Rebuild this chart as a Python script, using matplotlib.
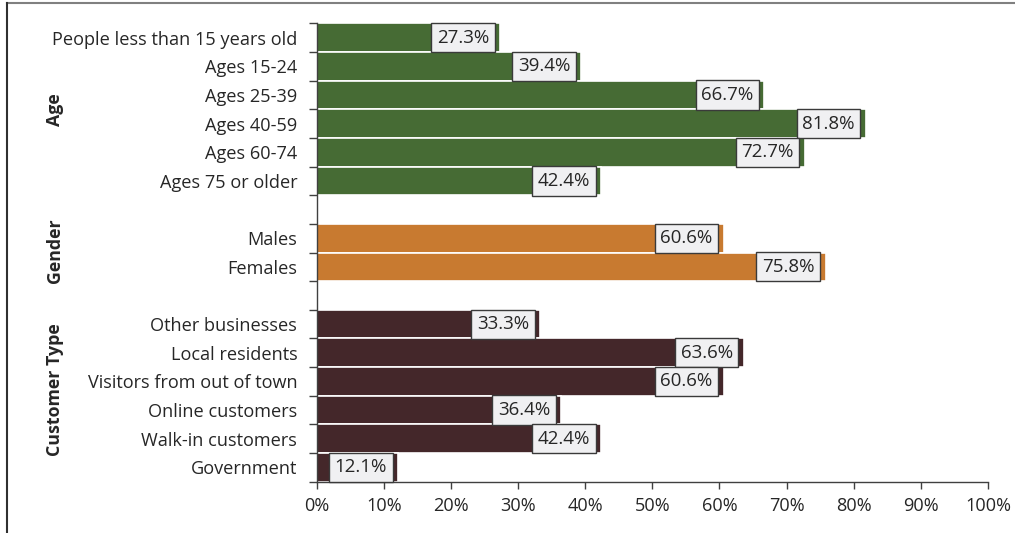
import matplotlib.pyplot as plt
from matplotlib.lines import Line2D

# datos
age_labels = ["People less than 15 years old", "Ages 15-24", "Ages 25-39",
              "Ages 40-59", "Ages 60-74", "Ages 75 or older"]
age_values = [27.3, 39.4, 66.7, 81.8, 72.7, 42.4]

gender_labels = ["Males", "Females"]
gender_values = [60.6, 75.8]

customer_labels = ["Other businesses", "Local residents", "Visitors from out of town",
                   "Online customers", "Walk-in customers", "Government"]
customer_values = [33.3, 63.6, 60.6, 36.4, 42.4, 12.1]

group_names = ["Age", "Gender", "Customer Type"]
colores = ["#466b34", "#c87a30", "#44272a"]

plt.rcParams['font.family'] = ['Open Sans', 'DejaVu Sans']
fs = 13.1

fig = plt.figure(figsize=(10.15, 5.33), dpi=100)
ax = fig.add_axes([316.7 / 1015, 1 - 481.7 / 533, (988 - 316.7) / 1015, (481.7 - 23.3) / 533])

grupos = [(age_labels, age_values), (gender_labels, gender_values), (customer_labels, customer_values)]

pos = 0
yticks, ylabels, centros = [], [], []
for i, (labs, vals) in enumerate(grupos):
    start = pos
    for lab, v in zip(labs, vals):
        ax.barh(pos, v / 100, height=1.0, color=colores[i], edgecolor="white", linewidth=1.2)
        ax.annotate(f"{v:.1f}%", (v / 100, pos), xytext=(-11, 0), textcoords="offset pixels",
                    ha="right", va="center", fontsize=fs + 0.4, color="#262626",
                    bbox=dict(boxstyle="square,pad=0.3", fc="#f0f0f2", ec="#3a3a3a", lw=1))
        yticks.append(pos)
        ylabels.append(lab)
        pos += 1
    centros.append((start + pos - 1) / 2)
    pos += 1  # hueco entre grupos
total = pos - 1

ax.set_ylim(total - 0.5, -0.5)
ax.set_xlim(0, 1)
ax.set_yticks(yticks)
ax.set_yticklabels(ylabels, fontsize=fs, color="#262626")
ax.tick_params(axis="y", length=0, pad=14)
ax.set_yticks([k - 0.5 for k in range(total + 1)], minor=True)
ax.tick_params(axis="y", which="minor", length=6, color="#404040", width=1)

ax.set_xticks([k / 10 for k in range(11)])
ax.set_xticklabels([f"{k * 10}%" for k in range(11)], fontsize=fs, color="#262626")
ax.tick_params(axis="x", length=5, color="#404040", width=1, pad=6)

for s in ["top", "right"]:
    ax.spines[s].set_visible(False)
for s in ["left", "bottom"]:
    ax.spines[s].set_color("#404040")
    ax.spines[s].set_linewidth(1)

# nombres de grupo
ajuste = [0, -0.05, -0.2]
for nombre, c, d in zip(group_names, centros, ajuste):
    y_fig = ax.transData.transform((0, c + d))[1]
    fig.text(55 / 1015, y_fig / (5.33 * 100), nombre, rotation=90, ha="center", va="center",
             fontsize=fs - 0.3, fontweight="bold", color="#262626")

# marco exterior
fig.add_artist(Line2D([7 / 1015, 1], [1 - 2.5 / 533, 1 - 2.5 / 533], color="#808080", lw=1.5))
fig.add_artist(Line2D([7 / 1015, 7 / 1015], [0, 1 - 2.5 / 533], color="#303030", lw=1.5))

plt.savefig("out.png", dpi=100)
